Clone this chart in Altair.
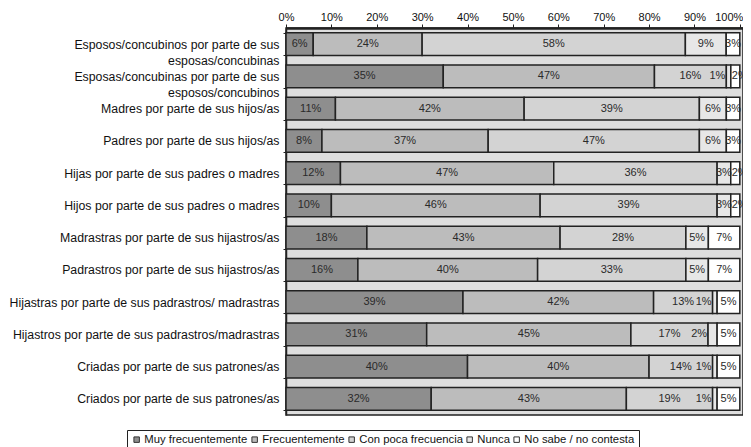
import altair as alt
import pandas as pd

categories = [
    "Esposos/concubinos por parte de sus|esposas/concubinas",
    "Esposas/concubinas por parte de sus|esposos/concubinos",
    "Madres por parte de sus hijos/as",
    "Padres por parte de sus hijos/as",
    "Hijas por parte de sus padres o madres",
    "Hijos por parte de sus padres o madres",
    "Madrastras por parte de sus hijastros/as",
    "Padrastros por parte de sus hijastros/as",
    "Hijastras por parte de sus padrastros/ madrastras",
    "Hijastros por parte de sus padrastros/madrastras",
    "Criadas por parte de sus patrones/as",
    "Criados por parte de sus patrones/as",
]
series = ["Muy frecuentemente", "Frecuentemente", "Con poca frecuencia",
          "Nunca", "No sabe / no contesta"]
muy_frec = [6, 35, 11, 8, 12, 10, 18, 16, 39, 31, 40, 32]
frec = [24, 47, 42, 37, 47, 46, 43, 40, 42, 45, 40, 43]
poca = [58, 16, 39, 47, 36, 39, 28, 33, 13, 17, 14, 19]
nunca = [9, 1, 6, 6, 3, 3, 5, 5, 1, 2, 1, 1]
nsnc = [3, 2, 3, 3, 2, 2, 7, 7, 5, 5, 5, 5]
tick_values = [0, 0.1, 0.2, 0.3, 0.4, 0.5, 0.6, 0.7, 0.8, 0.9, 1.0]
colors = ["#8e8e8e", "#bcbcbc", "#d3d3d3", "#e7e7e7", "#ffffff"]

rows = []
for i, c in enumerate(categories):
    for k, (s, vals) in enumerate(zip(series, [muy_frec, frec, poca, nunca, nsnc])):
        rows.append({"cat": c, "serie": s, "ord": k, "value": vals[i]})
df = pd.DataFrame(rows)

FONT = "Liberation Sans"

base = alt.Chart(df).transform_joinaggregate(
    total="sum(value)", groupby=["cat"]
).transform_calculate(
    pct="datum.value / datum.total"
).transform_stack(
    stack="pct", groupby=["cat"], sort=[alt.SortField("ord", "ascending")], as_=["x0", "x1"]
).transform_calculate(
    mid="(datum.x0 + datum.x1) / 2",
    lab="datum.value + '%'"
)

yenc = alt.Y("cat:N", sort=categories, title=None,
             scale=alt.Scale(paddingInner=0.3, paddingOuter=0.15),
             axis=alt.Axis(labelExpr="split(datum.label, '|')",
                           labelFontSize=12.3, labelFont=FONT, labelColor="#111",
                           labelLineHeight=16, labelPadding=4,
                           tickBand="extent", tickSize=3, tickColor="#222",
                           domainColor="#222", domainWidth=1.5, labelLimit=400))

bars = base.mark_bar(stroke="#222", strokeWidth=1.5).encode(
    x=alt.X("x0:Q", title=None,
            scale=alt.Scale(domain=[0, 1.007], nice=False, zero=False),
            axis=alt.Axis(orient="top", values=tick_values,
                          format=".0%", labelFontSize=11, labelFont=FONT,
                          labelColor="#111", tickSize=4, tickColor="#222",
                          domainColor="#222", domainWidth=2.5, grid=False,
                          labelPadding=2, labelFlush=False,
                          labelAlign=alt.condition("datum.value >= 1", alt.value("right"), alt.value("center")),
                          labelOffset=alt.condition("datum.value >= 1", alt.value(3), alt.value(0)))),
    x2="x1:Q",
    y=yenc,
    color=alt.Color("serie:N", sort=series,
                    scale=alt.Scale(domain=series, range=colors),
                    legend=alt.Legend(title=None, orient="none", direction="horizontal",
                                      legendX=-159, legendY=402,
                                      symbolType="square", symbolSize=30,
                                      symbolStrokeColor="#333", symbolStrokeWidth=1,
                                      labelFontSize=11.3, labelFont=FONT, labelColor="#111",
                                      strokeColor="#222", padding=4,
                                      columnPadding=1, labelOffset=2, gridAlign="none")),
    order=alt.Order("ord:Q"),
)

text_kw = dict(fontSize=11, font=FONT, color="#2a2a2a")

texts_mid = base.transform_filter(
    "!((datum.ord == 3 || datum.ord == 4) && datum.value <= 2)"
).mark_text(**text_kw).encode(
    x="mid:Q",
    y=alt.Y("cat:N", sort=categories),
    text="lab:N",
)

texts_nunca = base.transform_filter(
    "datum.ord == 3 && datum.value <= 2"
).mark_text(align="right", dx=-1, **text_kw).encode(
    x="x0:Q",
    y=alt.Y("cat:N", sort=categories),
    text="lab:N",
)

texts_ns = base.transform_filter(
    "datum.ord == 4 && datum.value <= 2"
).mark_text(align="left", dx=1, **text_kw).encode(
    x="x0:Q",
    y=alt.Y("cat:N", sort=categories),
    text="lab:N",
)

chart = alt.layer(bars, texts_mid, texts_nunca, texts_ns).properties(
    width=457, height=387,
    autosize=alt.AutoSizeParams(type="none"),
    padding={"left": 278, "top": 20, "right": 0, "bottom": 34},
).configure_view(
    fill="#dedede", stroke="#222", strokeWidth=1.5
)

chart.save("out.html", embed_options={"renderer": "svg", "actions": False})
